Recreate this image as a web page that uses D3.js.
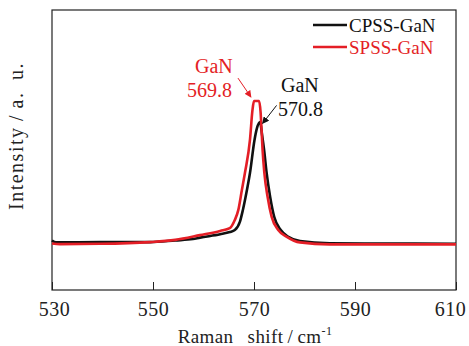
<!DOCTYPE html>
<html>
<head>
<meta charset="utf-8">
<script src="https://cdn.jsdelivr.net/npm/d3@7"></script>
<style>
  body { margin: 0; background: #fff; }
</style>
</head>
<body>
<div id="chart"></div>
<script>
// data
const cpssShift = [530, 530.8, 539.5, 549.4, 554.4, 557.9, 559.3, 563.3, 565.2, 566.2, 567.2, 567.8, 568.6, 569.2, 570.1, 570.6, 571.2, 571.6, 572.0, 572.5, 573.2, 574.0, 575.3, 576.8, 579.1, 585.0, 594.9, 610];
const cpssInt   = [17.7, 17.0, 17.1, 17.1, 17.7, 18.2, 18.7, 19.9, 20.7, 21.4, 24.3, 28.6, 35.7, 41.8, 53.6, 57.9, 60.0, 55.4, 50.0, 41.8, 33.2, 26.1, 21.4, 19.0, 17.5, 16.7, 16.6, 16.5];
const spssShift = [530, 531.6, 539.5, 549.4, 554.4, 559.3, 563.3, 565.2, 566.2, 566.9, 567.6, 568.2, 569.2, 569.7, 570.0, 571.0, 571.3, 571.5, 571.7, 572.05, 572.7, 573.5, 574.8, 576.5, 579.1, 585.0, 610];
const spssInt   = [16.6, 16.4, 16.5, 17.1, 17.9, 19.6, 21.1, 22.1, 25.0, 28.6, 35.7, 41.8, 53.6, 64.3, 67.5, 67.5, 63.6, 57.1, 50.0, 41.8, 33.2, 26.1, 21.4, 19.0, 17.0, 16.3, 16.3];

const seriesNames = ["CPSS-GaN", "SPSS-GaN"];
const seriesColors = ["#111111", "#e41e26"];
const xTicks = [530, 550, 570, 590, 610];

// peak annotations: label lines, series index, arrow tip (data)
const peakLabels = [["GaN", "569.8"], ["GaN", "570.8"]];
const peakSeries = [1, 0];
const peakTips = [[569.4, 68.9], [571.7, 59.5]];

const serif = '"Liberation Serif", "DejaVu Serif", "Times New Roman", Times, serif';

////////////////////////////////////////////////////////////////////
// svg
const width = 469, height = 346;
const margin = { top: 10, right: 13, bottom: 56, left: 52 };

const svg = d3.select("#chart").append("svg")
  .attr("width", width)
  .attr("height", height)
  .style("font-family", serif);

const x = d3.scaleLinear().domain([530, 610]).range([margin.left, width - margin.right]);
const y = d3.scaleLinear().domain([0, 100]).range([height - margin.bottom, margin.top]);

// defs: arrow heads
const defs = svg.append("defs");
seriesColors.forEach((c, i) => {
  defs.append("marker")
    .attr("id", "arrow" + i)
    .attr("viewBox", "0 0 10 10")
    .attr("refX", 9).attr("refY", 5)
    .attr("markerWidth", 7).attr("markerHeight", 7)
    .attr("markerUnits", "userSpaceOnUse")
    .attr("orient", "auto")
    .append("path")
    .attr("d", "M0,0 L10,5 L0,10 z")
    .attr("fill", c);
});

// frame
svg.append("rect")
  .attr("x", x(530)).attr("y", y(100))
  .attr("width", x(610) - x(530)).attr("height", y(0) - y(100))
  .attr("fill", "none")
  .attr("stroke", "#222")
  .attr("stroke-width", 1.2);

// x axis ticks (inside)
svg.append("g")
  .attr("transform", `translate(0,${y(0)})`)
  .call(d3.axisBottom(x).tickValues(xTicks).tickSizeInner(-8).tickSizeOuter(0).tickPadding(12).tickFormat(d3.format("d")))
  .call(g => g.attr("font-family", null).attr("font-size", null))
  .call(g => g.select(".domain").remove())
  .call(g => g.selectAll(".tick line").attr("stroke", "#222").attr("stroke-width", 1))
  .call(g => g.selectAll(".tick text")
    .style("font-family", serif)
    .style("font-size", "20px")
    .style("letter-spacing", "0.5px")
    .attr("fill", "#222")
    .attr("dx", d => d === 610 ? -6 : (d === 530 ? 2 : 0)));

// axis titles
const xTitle = svg.append("text")
  .attr("x", 255).attr("y", 343)
  .attr("text-anchor", "middle")
  .style("font-size", "19px")
  .style("letter-spacing", "0.4px")
  .attr("fill", "#222");
xTitle.append("tspan").text("Raman\u2002\u2009shift\u2009/\u2009cm");
xTitle.append("tspan").style("font-size", "12px").attr("dy", -8).text("-1");

svg.append("text")
  .attr("transform", `translate(23,136) rotate(-90)`)
  .attr("text-anchor", "middle")
  .style("font-size", "20px")
  .style("letter-spacing", "1.5px")
  .attr("fill", "#222")
  .text("Intensity\u2009/\u2009a.\u2002u.");

// lines
const line = d3.line()
  .x(d => x(d[0]))
  .y(d => y(d[1]))
  .curve(d3.curveMonotoneX);

const series = [
  d3.zip(cpssShift, cpssInt),
  d3.zip(spssShift, spssInt)
];

series.forEach((s, i) => {
  svg.append("path")
    .datum(s)
    .attr("d", line)
    .attr("fill", "none")
    .attr("stroke", seriesColors[i])
    .attr("stroke-width", 2.6)
    .attr("stroke-linejoin", "round");
});

// legend
const legend = svg.append("g");
seriesNames.forEach((n, i) => {
  const ly = 25 + i * 22;
  legend.append("line")
    .attr("x1", 313).attr("x2", 347)
    .attr("y1", ly).attr("y2", ly)
    .attr("stroke", seriesColors[i])
    .attr("stroke-width", 2.6);
  legend.append("text")
    .attr("x", 349).attr("y", ly + 7)
    .style("font-size", "19px")
    .attr("fill", seriesColors[i])
    .text(n);
});

// peak annotations
const arrowFrom = [[-13, -19], [14, -18]];
const textPos = [[[195, 73], [187, 97]], [[281, 92], [278, 116]]];
peakTips.forEach((t, i) => {
  const tx = x(t[0]), ty = y(t[1]);
  const c = seriesColors[peakSeries[i]];
  svg.append("line")
    .attr("x1", tx + arrowFrom[i][0]).attr("y1", ty + arrowFrom[i][1])
    .attr("x2", tx).attr("y2", ty)
    .attr("stroke", c)
    .attr("stroke-width", 1)
    .attr("marker-end", `url(#arrow${peakSeries[i]})`);
  peakLabels[i].forEach((lab, j) => {
    svg.append("text")
      .attr("x", textPos[i][j][0]).attr("y", textPos[i][j][1])
      .style("font-size", "20px")
      .attr("fill", c)
      .text(lab);
  });
});
</script>
</body>
</html>
